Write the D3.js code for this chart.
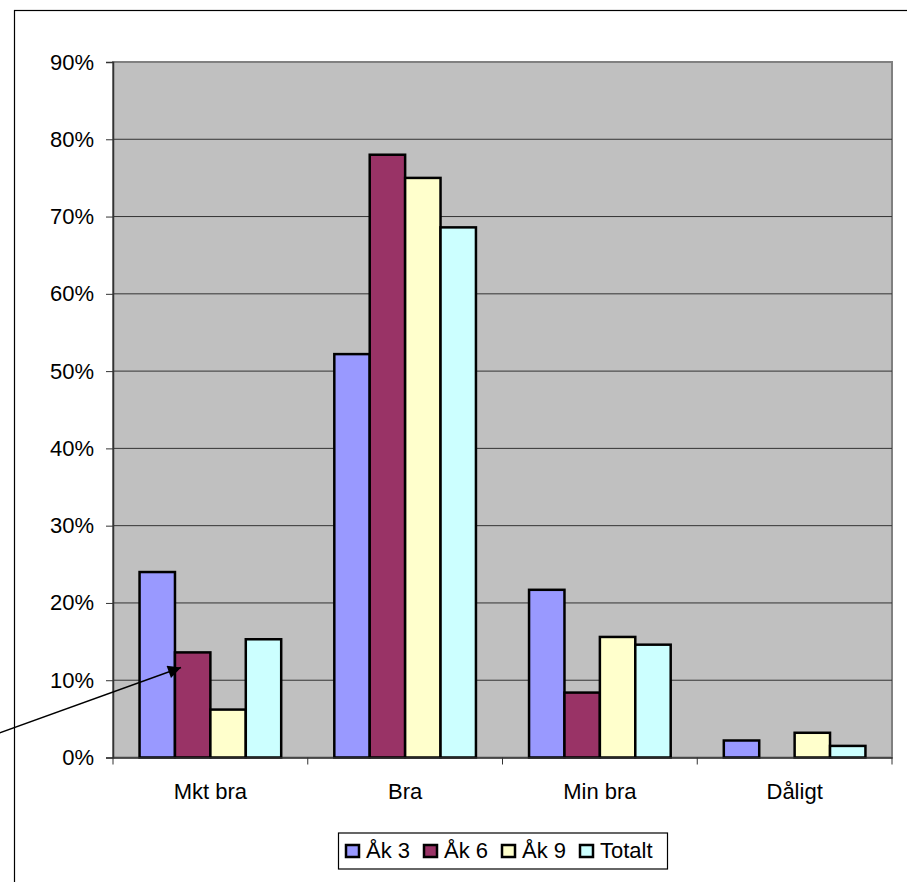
<!DOCTYPE html>
<html><head><meta charset="utf-8">
<script src="https://cdn.jsdelivr.net/npm/d3@7"></script>
<style>body{margin:0;background:#fff}svg{display:block}text{font-family:"Liberation Sans",Arial,sans-serif}</style>
</head><body>
<svg id="c" width="907" height="882"></svg>
<script>
const categories = ["Mkt bra", "Bra", "Min bra", "Dåligt"];
const seriesNames = ["Åk 3", "Åk 6", "Åk 9", "Totalt"];
const seriesColors = ["#9999FF", "#993366", "#FFFFCC", "#CCFFFF"];
const ak3 = [0.240, 0.522, 0.217, 0.022];
const ak6 = [0.136, 0.780, 0.084, 0.000];
const ak9 = [0.062, 0.750, 0.156, 0.032];
const totalt = [0.153, 0.686, 0.146, 0.015];
const yTicks = [0, 0.1, 0.2, 0.3, 0.4, 0.5, 0.6, 0.7, 0.8, 0.9];

const values = [ak3, ak6, ak9, totalt];
const svg = d3.select("#c");
const L = 113, R = 892, T = 62, B = 757.5;

// outer chart border (only top & left visible)
svg.append("rect").attr("x", 14.5).attr("y", 10.5).attr("width", 1000).attr("height", 1000)
  .attr("fill", "none").attr("stroke", "#000").attr("stroke-width", 1.2);

const x = d3.scaleBand().domain(categories).range([L, R]).padding(0);
const xs = d3.scaleBand().domain(seriesNames).range([0, x.bandwidth()]).paddingInner(0).paddingOuter(0.75);
const y = d3.scaleLinear().domain([0, 0.9]).range([B, T]);

// plot area
svg.append("rect").attr("x", L).attr("y", T).attr("width", R - L).attr("height", B - T)
  .attr("fill", "#C0C0C0").attr("stroke", "#808080").attr("stroke-width", 2);

// gridlines
svg.append("g").selectAll("line").data(yTicks.filter(d => d > 0 && d < 0.9)).join("line")
  .attr("x1", L).attr("x2", R).attr("y1", d => y(d)).attr("y2", d => y(d))
  .attr("stroke", "#333").attr("stroke-width", 1);

// bars
const g = svg.append("g");
seriesNames.forEach((s, si) => {
  g.append("g").selectAll("rect").data(categories).join("rect")
    .attr("x", c => x(c) + xs(s))
    .attr("y", (c, i) => y(values[si][i]))
    .attr("width", xs.bandwidth())
    .attr("height", (c, i) => B - y(values[si][i]))
    .attr("fill", seriesColors[si])
    .attr("stroke", "#000")
    .attr("stroke-width", 2.5)
    .style("display", (c, i) => values[si][i] > 0 ? null : "none");
});

// y axis
const yAxis = d3.axisLeft(y).tickValues(yTicks).tickFormat(d3.format(".0%")).tickSize(7).tickPadding(12);
const ya = svg.append("g").attr("transform", `translate(${L},0)`).call(yAxis);
ya.select(".domain").attr("stroke", "#333").attr("stroke-width", 1.5);
ya.selectAll(".tick line").attr("stroke", "#333");
ya.selectAll("text").attr("font-size", 22).attr("fill", "#000").attr("font-family", "Liberation Sans, Arial, sans-serif");

// x axis
const xAxis = d3.axisBottom(x).tickSize(0).tickPadding(0);
const xa = svg.append("g").attr("transform", `translate(0,${B})`).call(xAxis);
xa.select(".domain").attr("stroke", "#333").attr("stroke-width", 1.5);
xa.selectAll(".tick text").attr("font-size", 22).attr("fill", "#000").attr("dy", null).attr("y", 41)
  .attr("font-family", "Liberation Sans, Arial, sans-serif");
// category boundary ticks
const bounds = categories.map(c => x(c)).concat([R]);
xa.append("g").selectAll("line").data(bounds).join("line")
  .attr("x1", d => d).attr("x2", d => d).attr("y1", 0).attr("y2", 7).attr("stroke", "#333").attr("stroke-width", 1);

// legend
const lg = svg.append("g");
lg.append("rect").attr("x", 338.5).attr("y", 833).attr("width", 329).attr("height", 36)
  .attr("fill", "#fff").attr("stroke", "#000").attr("stroke-width", 1.2);
const itemX = [345, 423, 501, 579];
seriesNames.forEach((s, i) => {
  lg.append("rect").attr("x", itemX[i] + 1).attr("y", 845).attr("width", 13).attr("height", 12)
    .attr("fill", seriesColors[i]).attr("stroke", "#000").attr("stroke-width", 2.5);
  lg.append("text").attr("x", itemX[i] + 21).attr("y", 858).attr("font-size", 22).text(s);
});

// annotation arrow
const defs = svg.append("defs");
defs.append("marker").attr("id", "ah").attr("viewBox", "0 0 10 10").attr("refX", 10).attr("refY", 5)
  .attr("markerWidth", 16).attr("markerHeight", 13).attr("markerUnits", "userSpaceOnUse").attr("orient", "auto")
  .append("path").attr("d", "M0,0 L10,5 L0,10 Z").attr("fill", "#000");
svg.append("line").attr("x1", -20).attr("y1", 740).attr("x2", 181).attr("y2", 667.5)
  .attr("stroke", "#000").attr("stroke-width", 1.5).attr("marker-end", "url(#ah)");
</script>
</body></html>
